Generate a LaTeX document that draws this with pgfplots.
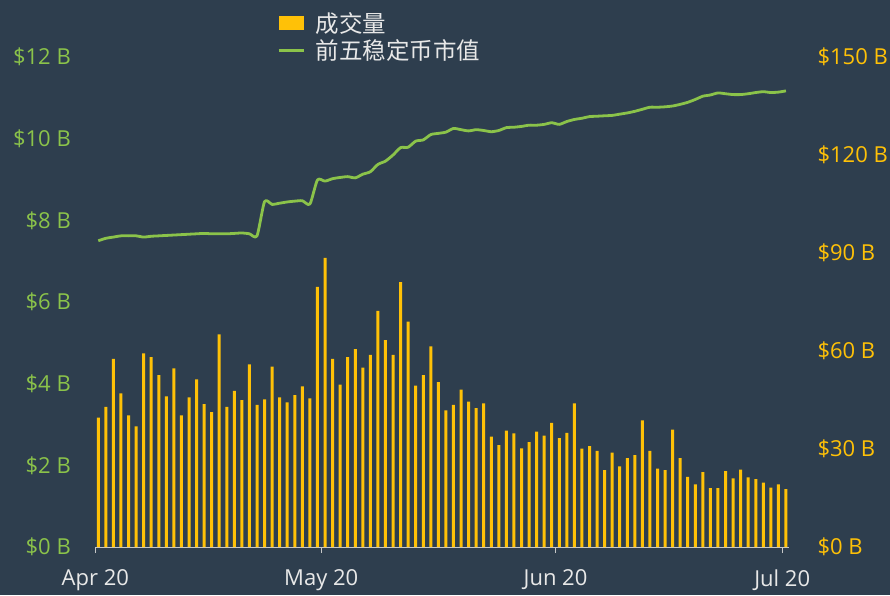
\documentclass[border=0pt]{standalone}
\usepackage{pgfplots}
\pgfplotsset{compat=1.18}
\usepackage{fontspec}
\setmainfont{Open Sans}
\newfontfamily\cjk{Noto Sans CJK SC}
\definecolor{bg}{RGB}{46,62,78}
\definecolor{gold}{RGB}{255,193,7}
\definecolor{lgreen}{RGB}{139,195,74}
\definecolor{txt}{RGB}{232,232,232}
\definecolor{axgray}{RGB}{200,200,200}
\pgfplotstableread{
d v
0 39.6
1 42.9
2 57.6
3 47.0
4 40.3
5 36.9
6 59.3
7 58.1
8 52.6
9 46.1
10 54.7
11 40.3
12 45.8
13 51.3
14 43.7
15 41.3
16 65.1
17 42.9
18 47.8
19 45.0
20 55.9
21 43.5
22 45.2
23 55.2
24 45.8
25 44.3
26 46.5
27 49.2
28 45.5
29 79.6
30 88.5
31 57.6
32 49.7
33 58.1
34 60.6
35 54.9
36 58.8
37 72.3
38 63.3
39 58.8
40 81.1
41 69.0
42 49.4
43 52.6
44 61.4
45 50.5
46 41.8
47 43.5
48 48.2
49 44.5
50 42.5
51 44.0
52 33.8
53 31.2
54 35.6
55 34.8
56 30.2
57 32.1
58 35.3
59 34.1
60 38.0
61 33.3
62 34.9
63 44.0
64 30.1
65 30.9
66 29.4
67 23.5
68 28.9
69 24.7
70 27.2
71 28.1
72 38.8
73 29.4
74 24.0
75 23.5
76 35.9
77 27.2
78 21.5
79 19.2
80 22.9
81 18.0
82 18.0
83 23.2
84 21.0
85 23.7
86 21.3
87 20.8
88 19.7
89 18.2
90 19.2
91 17.7
}\volume
\pgfplotstableread{
d m
0 7.50
1 7.56
2 7.59
3 7.62
4 7.62
5 7.62
6 7.59
7 7.61
8 7.62
9 7.63
10 7.64
11 7.65
12 7.66
13 7.67
14 7.68
15 7.67
16 7.67
17 7.67
18 7.68
19 7.69
20 7.67
21 7.62
22 8.46
23 8.39
24 8.42
25 8.45
26 8.47
27 8.48
28 8.40
29 8.99
30 8.96
31 9.02
32 9.05
33 9.07
34 9.04
35 9.13
36 9.19
37 9.37
38 9.45
39 9.60
40 9.78
41 9.79
42 9.94
43 9.97
44 10.10
45 10.13
46 10.16
47 10.25
48 10.22
49 10.19
50 10.22
51 10.20
52 10.17
53 10.20
54 10.27
55 10.28
56 10.30
57 10.33
58 10.33
59 10.35
60 10.39
61 10.35
62 10.42
63 10.47
64 10.50
65 10.54
66 10.55
67 10.56
68 10.57
69 10.60
70 10.63
71 10.67
72 10.72
73 10.77
74 10.77
75 10.78
76 10.80
77 10.84
78 10.89
79 10.96
80 11.04
81 11.07
82 11.12
83 11.10
84 11.08
85 11.08
86 11.10
87 11.13
88 11.15
89 11.13
90 11.14
91 11.17
}\mcap
\begin{document}
\begin{tikzpicture}
\fill[bg] (0pt,0pt) rectangle (890pt,595pt);
\useasboundingbox (0pt,0pt) rectangle (890pt,595pt);
\pgfplotsset{
  common/.style={
    at={(95.3pt,48pt)}, anchor=south west,
    width=693.7pt, height=490pt, scale only axis,
    xmin=-0.4, xmax=91.4,
    /pgf/number format/assume math mode=true,
    ticklabel style={font=\fontsize{22}{26}\selectfont},
  }
}
% right axis: volume bars
\begin{axis}[common,
  ymin=0, ymax=150,
  axis x line*=bottom,
  axis y line*=right,
  y axis line style={draw=none},
  x axis line style={draw=axgray, line width=0.8pt},
  xtick={-0.4,29.5,60.5,90.5},
  xticklabels={Apr 20,May 20,Jun 20,Jul 20},
  xtick style={draw=axgray, line width=0.8pt},
  tick align=outside,
  major tick length=6pt,
  xticklabel style={text=txt, yshift=-13pt},
  ytick={0,30,60,90,120,150},
  yticklabels={\$0 B,\$30 B,\$60 B,\$90 B,\$120 B,\$150 B},
  ytick style={draw=none},
  yticklabel style={text=gold, xshift=19pt, anchor=west},
  legend style={at={(rel axis cs:0.258,1.10)}, anchor=north west,
    draw=none, fill=none, text=txt,
    font=\cjk\fontsize{23.5}{26}\selectfont,
    cells={anchor=west}, row sep=2pt},
]
\addplot[ybar, bar width=3pt, fill=gold, draw=none,
  legend image code/.code={\fill[gold] (0pt,-7pt) rectangle (25pt,7pt);\path (35pt,0pt);}]
  table[x=d, y=v] {\volume};
\addlegendentry{成交量}
\addlegendimage{legend image code/.code={\draw[lgreen, line width=2.5pt] (0pt,0pt) -- (25pt,0pt);\path (35pt,0pt);}}
\addlegendentry{前五稳定币市值}
\end{axis}
% left axis: market cap line
\begin{axis}[common,
  ymin=0, ymax=12,
  axis x line=none,
  axis y line*=left,
  y axis line style={draw=none},
  ytick={0,2,4,6,8,10,12},
  yticklabels={\$0 B,\$2 B,\$4 B,\$6 B,\$8 B,\$10 B,\$12 B},
  ytick style={draw=none},
  yticklabel style={text=lgreen, xshift=-21pt, anchor=east},
]
\addplot[lgreen, line width=2.8pt, smooth, tension=0.4, line join=round]
  table[x=d, y=m] {\mcap};
\end{axis}
\end{tikzpicture}
\end{document}
